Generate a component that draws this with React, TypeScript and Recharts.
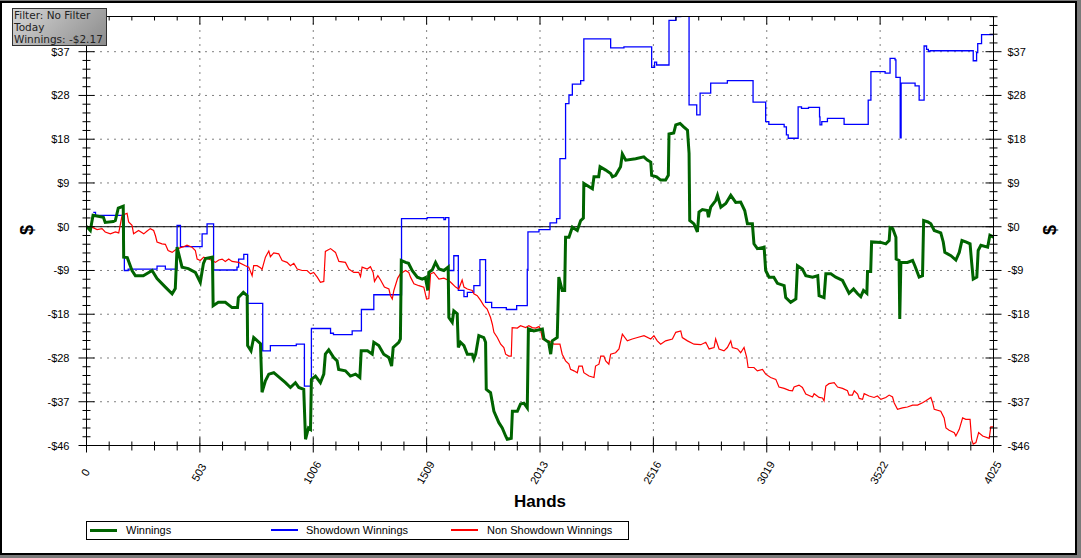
import React from "react";
import { CartesianGrid, Line, LineChart, ReferenceLine, XAxis, YAxis } from "recharts";

// [hands, dollars]
const WINNINGS: [number, number][] = [
  [0, 0.1], [17, -0.8], [29, 2.4], [75, 2.0], [83, 0.9], [119, 1.1], [128, 1.3], [141, 3.9], [163, 4.3], [165, -6.4],
  [181, -6.5], [202, -9.2], [217, -10.3], [252, -10.3], [291, -9.2], [313, -10.9], [350, -12.7], [380, -14.1], [394, -13.0],
  [402, -4.3], [424, -8.5], [452, -8.8], [483, -9.6], [505, -11.7], [519, -7.7], [528, -6.7], [559, -6.4], [562, -16.6],
  [585, -15.9], [616, -15.9], [646, -17.0], [670, -17.0], [674, -14.9], [696, -13.8], [713, -14.5], [715, -25.0], [730, -26.1],
  [742, -23.3], [772, -24.6], [779, -34.8], [794, -32.4], [809, -31.0], [831, -30.7], [883, -32.8], [905, -33.8], [927, -32.8],
  [942, -33.8], [964, -34.2], [972, -44.7], [985, -42.3], [994, -42.6], [998, -32.1], [1016, -31.4], [1038, -32.8], [1053, -31.0],
  [1060, -26.8], [1075, -25.9], [1097, -27.5], [1112, -28.2], [1119, -30.0], [1149, -30.3], [1171, -31.4], [1194, -31.0],
  [1213, -31.7], [1219, -26.1], [1247, -26.1], [1268, -26.8], [1275, -24.3], [1297, -25.0], [1319, -26.8], [1342, -27.5],
  [1354, -29.3], [1361, -25.4], [1386, -24.3], [1393, -23.6], [1397, -7.1], [1416, -7.5], [1429, -7.7], [1445, -9.2],
  [1468, -10.6], [1490, -11.0], [1504, -10.7], [1515, -13.4], [1519, -9.6], [1534, -9.1], [1549, -7.5], [1564, -8.9],
  [1586, -9.2], [1605, -8.5], [1608, -19.1], [1623, -20.1], [1630, -17.7], [1645, -18.3], [1650, -25.4], [1660, -24.3],
  [1675, -25.0], [1690, -26.8], [1712, -26.8], [1719, -27.8], [1727, -26.8], [1741, -22.9], [1763, -23.3], [1771, -24.3],
  [1774, -34.2], [1793, -34.9], [1808, -38.8], [1830, -41.2], [1845, -42.3], [1860, -44.0], [1867, -44.7], [1885, -44.5],
  [1890, -38.8], [1912, -38.8], [1926, -37.3], [1941, -37.1], [1956, -38.1], [1961, -21.5], [1985, -21.9], [2023, -21.5],
  [2030, -23.6], [2051, -24.3], [2060, -26.8], [2067, -24.0], [2089, -23.3], [2096, -10.6], [2111, -13.4], [2122, -13.4],
  [2126, -2.2], [2141, -2.2], [2156, -0.1], [2178, -0.8], [2193, 1.3], [2205, 1.8], [2207, 9.1], [2245, 8.0], [2252, 10.5],
  [2273, 10.5], [2279, 12.6], [2304, 11.9], [2326, 11.2], [2334, 10.5], [2348, 10.8], [2370, 12.6], [2378, 15.3], [2393, 14.0],
  [2437, 14.3], [2473, 14.7], [2489, 14.0], [2504, 13.6], [2508, 10.8], [2530, 10.5], [2548, 9.8], [2570, 9.8], [2582, 10.8],
  [2585, 19.5], [2606, 19.7], [2615, 21.4], [2634, 21.7], [2650, 21.0], [2667, 20.3], [2674, 15.4], [2677, 1.3], [2696, 0.6],
  [2711, -1.1], [2718, 3.1], [2733, 3.6], [2755, 3.4], [2760, 2.0], [2770, 4.1], [2792, 5.5], [2800, 6.6], [2815, 4.1],
  [2837, 4.9], [2859, 6.6], [2881, 5.1], [2903, 5.2], [2921, 3.4], [2933, 0.6], [2955, 0.6], [2962, -3.6], [2977, -4.6],
  [3007, -4.3], [3014, -9.2], [3029, -10.6], [3050, -10.6], [3066, -11.9], [3096, -12.4], [3103, -14.9], [3125, -15.9],
  [3148, -15.2], [3155, -8.2], [3177, -8.9], [3192, -10.3], [3222, -10.6], [3245, -10.3], [3251, -14.5], [3273, -14.9],
  [3281, -9.9], [3303, -9.9], [3325, -10.6], [3355, -11.3], [3370, -12.7], [3384, -14.0], [3404, -13.1], [3422, -14.1],
  [3436, -14.7], [3448, -13.4], [3463, -14.0], [3466, -9.4], [3480, -9.4], [3484, -3.2], [3525, -3.3], [3547, -3.6],
  [3562, -2.9], [3566, -0.2], [3578, -0.4], [3592, -2.2], [3593, -6.8], [3606, -7.1], [3609, -19.4], [3614, -7.5],
  [3643, -7.5], [3666, -7.1], [3676, -8.2], [3695, -10.6], [3710, -10.3], [3715, 1.3], [3734, 1.0], [3747, 0.6],
  [3762, -0.8], [3791, -1.3], [3802, -3.2], [3809, -5.4], [3836, -6.1], [3858, -7.0], [3873, -5.4], [3885, -2.9],
  [3902, -3.2], [3921, -3.6], [3928, -7.5], [3935, -11.0], [3951, -10.6], [3957, -5.0], [3969, -3.9], [3999, -4.3],
  [4009, -1.8], [4025, -2.17],
];

const SHOWDOWN: [number, number][] = [
  [30, 3.0], [40, 2.4], [168, -9.2], [185, -8.9], [313, -8.3], [350, -8.9], [402, 0.3], [417, -4.2], [513, -1.5],
  [535, 0.6], [564, -9.1], [668, -8.5], [675, -6.8], [698, -5.8], [715, -16.1], [782, -26.1], [816, -25.0], [931, -24.7],
  [967, -33.5], [998, -21.4], [1083, -22.4], [1096, -22.7], [1179, -21.9], [1220, -17.4], [1275, -14.3], [1398, 1.7],
  [1512, 1.9], [1586, 1.5], [1593, 1.9], [1608, -9.2], [1630, -6.1], [1650, -13.4], [1675, -14.7], [1690, -13.8],
  [1719, -12.4], [1746, -6.9], [1771, -15.9], [1798, -17.0], [1863, -17.4], [1909, -16.6], [1956, -9.0], [1959, -1.1],
  [2008, -0.6], [2057, 0.8], [2086, 1.7], [2101, 14.3], [2126, 25.9], [2141, 27.7], [2156, 30.0], [2193, 30.7],
  [2207, 39.5], [2326, 37.6], [2385, 37.8], [2508, 33.5], [2521, 34.6], [2530, 34.0], [2585, 43.4], [2615, 44.2],
  [2637, 46.5], [2674, 25.6], [2708, 23.5], [2723, 28.1], [2770, 30.2], [2844, 30.7], [2958, 26.2], [3014, 22.1],
  [3028, 21.5], [3096, 21.0], [3106, 19.3], [3114, 18.6], [3158, 25.2], [3173, 24.9], [3204, 25.1], [3253, 23.1],
  [3255, 21.4], [3263, 22.1], [3288, 22.8], [3362, 21.5], [3469, 26.6], [3481, 32.6], [3544, 32.3], [3566, 35.4],
  [3588, 35.1], [3592, 31.4], [3611, 18.7], [3615, 30.2], [3677, 29.6], [3695, 26.6], [3717, 38.0], [3728, 37.3],
  [3736, 36.8], [3743, 37.0], [3935, 34.9], [3950, 36.6], [3955, 38.5], [3972, 40.4], [4025, 40.4],
];

const NON_SHOWDOWN: [number, number][] = [
  [0, 0], [24, -0.1], [47, -0.6], [69, -0.4], [83, -1.1], [106, -1.5], [128, -1.1], [143, -1.3], [158, 2.4], [180, 2.8],
  [187, 1.0], [202, 0.3], [209, -1.5], [231, -0.8], [254, -1.5], [269, -0.9], [283, -0.4], [298, -0.8], [306, -1.9],
  [313, -3.2], [335, -3.6], [350, -3.7], [362, -5.0], [380, -5.4], [394, -4.9], [417, -4.4], [431, -4.2], [446, -3.9],
  [468, -4.3], [483, -5.0], [491, -6.8], [505, -7.1], [520, -6.4], [542, -6.8], [557, -7.1], [572, -7.5], [587, -7.0],
  [602, -6.8], [616, -7.3], [631, -6.8], [646, -7.3], [675, -7.5], [705, -8.2], [720, -8.5], [735, -10.3], [742, -8.2],
  [757, -8.2], [772, -8.6], [779, -9.0], [794, -6.4], [809, -5.1], [816, -6.3], [831, -5.5], [853, -5.7], [868, -7.1],
  [890, -7.5], [905, -8.2], [920, -7.7], [935, -8.9], [957, -9.2], [979, -9.2], [994, -9.9], [1008, -9.6], [1024, -10.6],
  [1038, -11.7], [1053, -11.5], [1060, -5.2], [1083, -4.6], [1105, -5.4], [1120, -7.3], [1149, -7.5], [1164, -8.9],
  [1186, -9.6], [1208, -9.6], [1216, -10.5], [1223, -8.5], [1246, -8.9], [1260, -8.4], [1272, -9.6], [1278, -11.5],
  [1293, -10.3], [1305, -11.2], [1322, -12.7], [1342, -13.1], [1349, -14.5], [1357, -15.2], [1364, -13.4], [1381, -10.8],
  [1393, -9.9], [1416, -9.2], [1430, -9.6], [1438, -10.6], [1453, -12.0], [1475, -12.4], [1497, -12.7], [1509, -15.2],
  [1519, -15.1], [1527, -9.9], [1541, -9.6], [1564, -11.0], [1586, -10.8], [1608, -11.3], [1623, -12.0], [1638, -12.7],
  [1652, -13.1], [1667, -11.2], [1675, -12.7], [1690, -13.1], [1712, -13.4], [1719, -14.1], [1734, -14.5], [1749, -15.5],
  [1763, -16.6], [1778, -17.3], [1793, -19.1], [1801, -20.5], [1808, -22.2], [1823, -23.3], [1838, -24.7], [1852, -25.4],
  [1860, -26.8], [1874, -27.2], [1885, -27.2], [1889, -21.2], [1912, -21.3], [1926, -20.8], [1949, -21.2], [1963, -20.8],
  [1978, -21.2], [1993, -21.3], [2008, -21.0], [2015, -21.5], [2023, -23.6], [2045, -24.0], [2052, -24.0], [2074, -24.7],
  [2101, -24.7], [2111, -26.8], [2126, -28.2], [2141, -28.9], [2148, -30.0], [2163, -30.3], [2178, -30.7], [2185, -29.3],
  [2200, -29.3], [2207, -30.7], [2230, -31.4], [2252, -31.7], [2259, -29.3], [2274, -28.9], [2282, -27.2], [2296, -27.2],
  [2304, -28.2], [2318, -28.9], [2326, -26.8], [2348, -26.5], [2363, -25.7], [2378, -22.6], [2400, -24.0], [2422, -23.6],
  [2445, -23.3], [2474, -22.9], [2504, -23.6], [2518, -22.9], [2533, -24.0], [2548, -24.7], [2570, -24.0], [2600, -23.6],
  [2615, -22.2], [2637, -21.9], [2644, -23.3], [2667, -24.0], [2696, -24.7], [2726, -24.8], [2748, -24.3], [2763, -25.7],
  [2785, -25.4], [2792, -23.6], [2807, -25.7], [2829, -26.1], [2844, -25.4], [2859, -24.0], [2866, -25.4], [2889, -25.7],
  [2903, -26.5], [2918, -25.4], [2930, -27.5], [2936, -29.6], [2962, -29.6], [2977, -30.3], [3000, -30.0], [3014, -31.0],
  [3036, -31.7], [3059, -32.1], [3073, -33.7], [3096, -34.0], [3118, -34.4], [3133, -34.5], [3140, -33.7], [3162, -33.3],
  [3177, -33.8], [3192, -35.2], [3222, -35.8], [3229, -35.1], [3251, -35.9], [3266, -36.0], [3273, -36.6], [3281, -33.5],
  [3295, -33.0], [3318, -32.8], [3333, -33.7], [3355, -34.0], [3377, -34.5], [3384, -35.4], [3399, -35.4], [3407, -34.5],
  [3422, -35.2], [3429, -36.1], [3444, -36.3], [3451, -35.1], [3473, -35.6], [3495, -35.9], [3510, -35.6], [3525, -36.3],
  [3547, -35.9], [3562, -35.4], [3577, -35.8], [3584, -37.0], [3599, -38.4], [3621, -38.1], [3643, -37.9], [3666, -37.5],
  [3688, -37.5], [3710, -37.0], [3725, -36.6], [3747, -35.9], [3755, -37.0], [3762, -38.4], [3791, -38.8], [3806, -40.2],
  [3814, -42.3], [3828, -42.8], [3851, -43.3], [3858, -44.0], [3873, -42.6], [3888, -40.2], [3902, -40.5], [3921, -40.5],
  [3928, -44.7], [3935, -45.7], [3947, -45.4], [3959, -43.3], [3977, -44.0], [4006, -44.5], [4013, -42.1], [4025, -42.1],
];

const Y_MAJOR = [-46, -36.8, -27.6, -18.4, -9.2, 0, 9.2, 18.4, 27.6, 36.8];
const X_MAJOR = [0, 503.125, 1006.25, 1509.375, 2012.5, 2515.625, 3018.75, 3521.875, 4025];
const Y_DOMAIN: [number, number] = [-46, 44.2];
const X_DOMAIN: [number, number] = [0, 4025];

// minor ticks: 5 per major step
const Y_TICKS = Array.from({ length: 50 }, (_, i) => -46 + (i * 9.2) / 5);
const X_TICKS = Array.from({ length: 41 }, (_, i) => (i * 4025) / 40);

const toRows = (pts: [number, number][]) => pts.map(([hands, value]) => ({ hands, value }));

const isMajor = (v: number, step: number) => Math.abs(v / step - Math.round(v / step)) < 1e-6;
const money = (v: number) => (v < -1e-9 ? "-" : "") + "$" + Math.round(Math.abs(v));

const TICK_FONT = { fontFamily: "'Liberation Sans', Arial, sans-serif", fontSize: 11, fill: "#000" };

function LeftTick({ x, y, payload }: any) {
  const major = isMajor(payload.value, 9.2);
  const len = major ? 8 : 4;
  return (
    <g>
      <line x1={x - len} x2={x + len} y1={y} y2={y} stroke="#000" />
      {major && (
        <text x={x - 17} y={y} dy={4} textAnchor="end" {...TICK_FONT}>
          {money(payload.value)}
        </text>
      )}
    </g>
  );
}

function RightTick({ x, y, payload }: any) {
  const major = isMajor(payload.value, 9.2);
  const len = major ? 8 : 4;
  return (
    <g>
      <line x1={x - len} x2={x + len} y1={y} y2={y} stroke="#000" />
      {major && (
        <text x={x + 14} y={y} dy={4} textAnchor="start" {...TICK_FONT}>
          {money(payload.value)}
        </text>
      )}
    </g>
  );
}

function BottomTick({ x, y, payload }: any) {
  const major = isMajor(payload.value, 503.125);
  return (
    <g>
      <line x1={x} x2={x} y1={y - (major ? 8 : 4)} y2={y + (major ? 7 : 5)} stroke="#000" />
      {major && (
        <text
          transform={`translate(${x - 1},${y + 27}) rotate(-60)`}
          textAnchor="middle"
          dy="0.35em"
          {...TICK_FONT}
        >
          {Math.round(payload.value)}
        </text>
      )}
    </g>
  );
}

function TopTick({ x, y, payload }: any) {
  const major = isMajor(payload.value, 503.125);
  return <line x1={x} x2={x} y1={y} y2={y + (major ? 8 : 4)} stroke="#000" />;
}

const LEGEND = [
  { name: "Winnings", color: "#006400", width: 3, x: 90, tx: 126 },
  { name: "Showdown Winnings", color: "#0000ff", width: 1.5, x: 271, tx: 306 },
  { name: "Non Showdown Winnings", color: "#ff0000", width: 1.5, x: 451, tx: 487 },
];

export default function App() {
  const sans = "'Liberation Sans', Arial, sans-serif";
  return (
    <div style={{ position: "absolute", left: 0, top: 0, width: 1081, height: 558, background: "#7a7a7a", overflow: "hidden" }}>
      <div
        style={{
          position: "absolute",
          left: 0,
          top: 1,
          width: 1077,
          height: 554,
          boxSizing: "border-box",
          border: "2px solid #000",
          background: "#fff",
        }}
      />
      <div style={{ position: "absolute", left: 0, top: 0 }}>
        <LineChart width={1081} height={558} margin={{ top: 1.5, right: 27.5, bottom: 52.5, left: 26.5 }}>
          <CartesianGrid
            xAxisId="bottom"
            yAxisId="left"
            horizontalValues={Y_MAJOR}
            verticalValues={X_MAJOR}
            stroke="#000"
            strokeDasharray="1 6"
          />
          <XAxis
            xAxisId="bottom"
            dataKey="hands"
            type="number"
            domain={X_DOMAIN}
            ticks={X_TICKS}
            interval={0}
            height={60}
            tickSize={0}
            tickMargin={0}
            tickLine={false}
            tick={<BottomTick />}
            axisLine={{ stroke: "#000" }}
            allowDataOverflow
          />
          <XAxis
            xAxisId="top"
            orientation="top"
            dataKey="hands"
            type="number"
            domain={X_DOMAIN}
            ticks={X_TICKS}
            interval={0}
            height={15}
            tickSize={0}
            tickMargin={0}
            tickLine={false}
            tick={<TopTick />}
            axisLine={{ stroke: "#000" }}
            allowDataOverflow
          />
          <YAxis
            yAxisId="left"
            type="number"
            domain={Y_DOMAIN}
            ticks={Y_TICKS}
            interval={0}
            width={60}
            tickSize={0}
            tickMargin={0}
            tickLine={false}
            tick={<LeftTick />}
            axisLine={{ stroke: "#000" }}
            allowDataOverflow
          />
          <YAxis
            yAxisId="right"
            orientation="right"
            type="number"
            domain={Y_DOMAIN}
            ticks={Y_TICKS}
            interval={0}
            width={60}
            tickSize={0}
            tickMargin={0}
            tickLine={false}
            tick={<RightTick />}
            axisLine={{ stroke: "#000" }}
            allowDataOverflow
          />
          <ReferenceLine xAxisId="bottom" yAxisId="left" y={0} stroke="#000" strokeWidth={1} />
          <Line
            xAxisId="bottom"
            yAxisId="left"
            data={toRows(SHOWDOWN)}
            dataKey="value"
            type="stepAfter"
            stroke="#0000ff"
            strokeWidth={1.3}
            dot={false}
            activeDot={false}
            isAnimationActive={false}
          />
          <Line
            xAxisId="bottom"
            yAxisId="left"
            data={toRows(NON_SHOWDOWN)}
            dataKey="value"
            type="linear"
            stroke="#ff0000"
            strokeWidth={1.2}
            dot={false}
            activeDot={false}
            isAnimationActive={false}
          />
          <Line
            xAxisId="bottom"
            yAxisId="left"
            data={toRows(WINNINGS)}
            dataKey="value"
            type="linear"
            stroke="#006400"
            strokeWidth={3}
            dot={false}
            activeDot={false}
            isAnimationActive={false}
          />
        </LineChart>
      </div>

      {/* axis titles */}
      <div
        style={{
          position: "absolute",
          left: 18,
          top: 219,
          width: 20,
          height: 22,
          lineHeight: "22px",
          textAlign: "center",
          font: `bold 18px ${sans}`,
          transform: "rotate(-90deg)",
        }}
      >
        $
      </div>
      <div
        style={{
          position: "absolute",
          left: 1041,
          top: 219,
          width: 20,
          height: 22,
          lineHeight: "22px",
          textAlign: "center",
          font: `bold 18px ${sans}`,
          transform: "rotate(-90deg)",
        }}
      >
        $
      </div>
      <div
        style={{
          position: "absolute",
          left: 490,
          top: 492,
          width: 100,
          textAlign: "center",
          font: `bold 17px ${sans}`,
        }}
      >
        Hands
      </div>

      {/* legend */}
      <div
        style={{
          position: "absolute",
          left: 86,
          top: 521,
          width: 543,
          height: 19,
          boxSizing: "border-box",
          border: "1px solid #000",
          background: "#fff",
        }}
      >
        {LEGEND.map((item) => (
          <React.Fragment key={item.name}>
            <div
              style={{
                position: "absolute",
                left: item.x - 87,
                top: 8 - item.width / 2,
                width: 27,
                height: item.width,
                background: item.color,
              }}
            />
            <div
              style={{
                position: "absolute",
                left: item.tx - 87,
                top: 1,
                font: `11px ${sans}`,
                lineHeight: "15px",
                color: "#000",
                whiteSpace: "nowrap",
              }}
            >
              {item.name}
            </div>
          </React.Fragment>
        ))}
      </div>

      {/* filter info box */}
      <div
        style={{
          position: "absolute",
          left: 12,
          top: 8,
          width: 95,
          height: 38,
          boxSizing: "border-box",
          border: "1px solid #303030",
          background: "linear-gradient(135deg, #d6d6d6 0%, #b0b0b0 50%, #8c8c8c 100%)",
          padding: "0 0 0 1px",
          font: "10.5px 'DejaVu Sans', Verdana, sans-serif",
          lineHeight: "12px",
          color: "#222",
          whiteSpace: "nowrap",
        }}
      >
        <div>Filter: No Filter</div>
        <div>Today</div>
        <div>Winnings: -$2.17</div>
      </div>
    </div>
  );
}
